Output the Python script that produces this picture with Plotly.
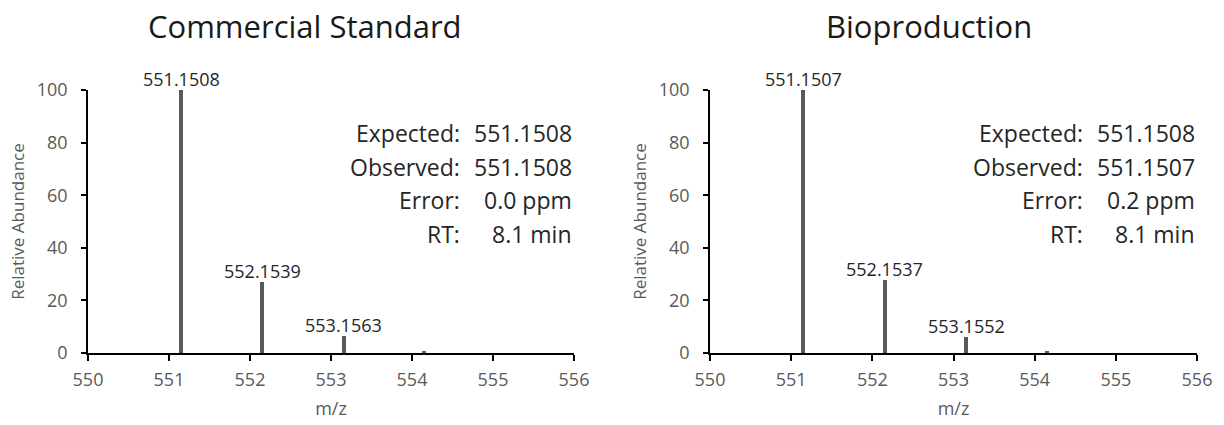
import plotly.graph_objects as go

# ---- data ----
titles = ["Commercial Standard", "Bioproduction"]
std_mz = [551.1508, 552.1539, 553.1563, 554.15]
std_ab = [100.0, 27.0, 6.3, 0.8]
std_labels = ["551.1508", "552.1539", "553.1563", ""]
bio_mz = [551.1507, 552.1537, 553.1552, 554.15]
bio_ab = [100.0, 27.6, 5.9, 0.8]
bio_labels = ["551.1507", "552.1537", "553.1552", ""]
info_keys = ["Expected:", "Observed:", "Error:", "RT:"]
std_info = ["551.1508", "551.1508", "0.0 ppm", "8.1 min"]
bio_info = ["551.1508", "551.1507", "0.2 ppm", "8.1 min"]
x_ticks = [550, 551, 552, 553, 554, 555, 556]
y_ticks = [0, 20, 40, 60, 80, 100]

FONT = "Open Sans"
W, H = 1224, 425
fig = go.Figure()

panels = [
    (std_mz, std_ab, std_labels, std_info, (88, 574), 305),
    (bio_mz, bio_ab, bio_labels, bio_info, (710, 1197), 929),
]
ytop, ybot = 90, 353
ydom = [1 - ybot / H, 1 - ytop / H]

for i, (mz, ab, labels, info, (x0, x1), tcx) in enumerate(panels):
    n = "" if i == 0 else str(i + 1)
    xa, ya = "x" + n, "y" + n
    fig.add_trace(go.Bar(x=mz, y=ab, width=0.05, marker=dict(color="#595959", line_width=0),
                         xaxis=xa, yaxis=ya, showlegend=False, hoverinfo="x+y"))
    for m, a, t in zip(mz, ab, labels):
        if t:
            fig.add_annotation(x=m, y=a, xref=xa, yref=ya, text=t, showarrow=False,
                               yanchor="bottom", yshift=-3,
                               font=dict(family=FONT, size=18, color="#262626"))
    dom = [x0 / W, x1 / W]
    axx = dict(domain=dom, range=[550, 556], tickvals=x_ticks, ticks="outside", ticklen=6,
               tickwidth=1.5, tickcolor="#000", showline=True, linecolor="#000", linewidth=1.5,
               showgrid=False, zeroline=False, anchor=ya, automargin=False,
               ticklabelstandoff=4,
               tickfont=dict(family=FONT, size=18, color="#595959"),
               title=dict(text="m/z", font=dict(family=FONT, size=18, color="#595959"), standoff=12))
    axy = dict(domain=ydom, range=[0, 100], tickvals=y_ticks, ticks="outside", ticklen=5,
               tickwidth=1.5, tickcolor="#000", showline=True, linecolor="#000", linewidth=1.5,
               showgrid=False, zeroline=False, anchor=xa, automargin=False,
               ticklabelstandoff=10,
               tickfont=dict(family=FONT, size=18, color="#595959"),
               title=dict(text="Relative Abundance", font=dict(family=FONT, size=17, color="#595959"), standoff=8))
    fig.update_layout(**{"xaxis" + n: axx, "yaxis" + n: axy})
    # title
    fig.add_annotation(x=tcx / W, y=1 - 26 / H, xref="paper", yref="paper",
                       text=titles[i], showarrow=False, xanchor="center", yanchor="middle",
                       font=dict(family=FONT, size=31, color="#1a1a1a"))
    # info block
    for k, (key, val) in enumerate(zip(info_keys, info)):
        yy = 1 - (133 + 33.5 * k) / H
        fig.add_annotation(x=(x1 - 112) / W, y=yy, xref="paper", yref="paper", text=key,
                           showarrow=False, xanchor="right", yanchor="middle",
                           font=dict(family=FONT, size=23, color="#262626"))
        fig.add_annotation(x=x1 / W, y=yy, xref="paper", yref="paper", text=val,
                           showarrow=False, xanchor="right", yanchor="middle",
                           font=dict(family=FONT, size=23, color="#262626"))

fig.update_layout(width=W, height=H, margin=dict(l=0, r=0, t=0, b=0),
                  plot_bgcolor="white", paper_bgcolor="white", bargap=0)
fig.write_html("out.html")
